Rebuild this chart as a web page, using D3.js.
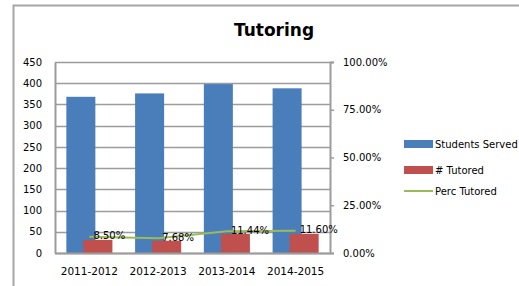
<!DOCTYPE html>
<html>
<head>
<meta charset="utf-8">
<script src="https://cdn.jsdelivr.net/npm/d3@7"></script>
<style>
  body { margin: 0; background: #fff; }
  svg { font-family: "DejaVu Sans", sans-serif; }
</style>
</head>
<body>
<div id="chart"></div>
<script>
// Data
let years = ["2011-2012", "2012-2013", "2013-2014", "2014-2015"];
let served = [368, 376, 398, 388];
let tutored = [31, 29, 45, 45];
let perc = [0.085, 0.0768, 0.1144, 0.116];
let percLabels = ["8.50%", "7.68%", "11.44%", "11.60%"];
let leftTicks = [0, 50, 100, 150, 200, 250, 300, 350, 400, 450];
let rightTicks = [0, 0.25, 0.5, 0.75, 1];
let legendNames = ["Students Served", "# Tutored", "Perc Tutored"];

// Set dimensions
let width = 519,
    height = 286;
let plot = { left: 55, right: 330, top: 62, bottom: 253 };
let font = "'DejaVu Sans', sans-serif";

let svg = d3.select("#chart")
    .append("svg")
        .attr("width", width)
        .attr("height", height);

// Chart frame
svg.append("rect")
    .attr("x", 13.5)
    .attr("y", 5.5)
    .attr("width", 600)
    .attr("height", 400)
    .attr("fill", "none")
    .attr("stroke", "#a6a6a6")
    .attr("stroke-width", 2);

// Title
svg.append("text")
    .attr("x", 274)
    .attr("y", 36)
    .attr("text-anchor", "middle")
    .attr("font-size", 17)
    .attr("font-weight", "bold")
    .text("Tutoring");

// Scales
let x = d3.scaleBand()
    .domain(years)
    .range([plot.left, plot.right])
    .paddingInner(0.33)
    .paddingOuter(0.165);

let y = d3.scaleLinear()
    .domain([0, 450])
    .range([plot.bottom, plot.top]);

let y2 = d3.scaleLinear()
    .domain([0, 1])
    .range([plot.bottom, plot.top]);

// Gridlines
svg.append("g")
    .selectAll("line")
    .data(leftTicks)
    .join("line")
        .attr("x1", plot.left)
        .attr("x2", plot.right)
        .attr("y1", d => Math.round(y(d)) + 0.5)
        .attr("y2", d => Math.round(y(d)) + 0.5)
        .attr("stroke", "#9c9c9c")
        .attr("stroke-width", 1.5);

// Left axis
let leftAxis = svg.append("g")
    .attr("transform", `translate(${plot.left},0)`)
    .call(d3.axisLeft(y).tickValues(leftTicks).tickSize(0).tickPadding(13));
leftAxis.select(".domain").attr("stroke", "#9c9c9c").attr("stroke-width", 2);
leftAxis.selectAll("text").attr("font-size", 10).attr("font-family", font).attr("fill", "#000");

// Right axis
let rightAxis = svg.append("g")
    .attr("transform", `translate(${plot.right},0)`)
    .call(d3.axisRight(y2).tickValues(rightTicks).tickSize(4).tickPadding(9).tickFormat(d3.format(".2%")));
rightAxis.select(".domain").attr("stroke", "#9c9c9c").attr("stroke-width", 2);
rightAxis.selectAll("line").attr("stroke", "#9c9c9c").attr("stroke-width", 1.5);
rightAxis.selectAll("text").attr("font-size", 10).attr("font-family", font).attr("fill", "#000");

// Bars
let group = x.bandwidth();
let barW = group * 0.63;

svg.append("g")
    .selectAll("rect")
    .data(years)
    .join("rect")
        .attr("x", d => x(d))
        .attr("y", (d, i) => y(served[i]))
        .attr("width", barW)
        .attr("height", (d, i) => y(0) - y(served[i]))
        .attr("fill", "#4a7ebb");

svg.append("g")
    .selectAll("rect")
    .data(years)
    .join("rect")
        .attr("x", d => x(d) + group - barW)
        .attr("y", (d, i) => y(tutored[i]))
        .attr("width", barW)
        .attr("height", (d, i) => y(0) - y(tutored[i]))
        .attr("fill", "#c0504d");

// Bottom axis line
svg.append("line")
    .attr("x1", plot.left)
    .attr("x2", plot.right)
    .attr("y1", plot.bottom + 0.5)
    .attr("y2", plot.bottom + 0.5)
    .attr("stroke", "#9c9c9c")
    .attr("stroke-width", 2);

// X labels
svg.append("g")
    .selectAll("text")
    .data(years)
    .join("text")
        .attr("x", d => x(d) + group / 2)
        .attr("y", 275)
        .attr("text-anchor", "middle")
        .attr("font-size", 10.5)
        .text(d => d);

// Perc line
let cx = d => x(d) + group / 2;
let line = d3.line()
    .x((d, i) => cx(years[i]))
    .y(d => y2(d));

svg.append("path")
    .datum(perc)
    .attr("d", line)
    .attr("fill", "none")
    .attr("stroke", "#9bbb59")
    .attr("stroke-width", 2);

svg.append("g")
    .selectAll("text")
    .data(perc)
    .join("text")
        .attr("x", (d, i) => cx(years[i]) + 4)
        .attr("y", d => y2(d) - 1)
        .attr("dy", "0.35em")
        .attr("font-size", 10)
        .text((d, i) => percLabels[i]);

// Legend
let legend = svg.append("g").attr("transform", "translate(404,0)");
legend.append("rect").attr("x", 0).attr("y", 140).attr("width", 29).attr("height", 8).attr("fill", "#4a7ebb");
legend.append("rect").attr("x", 0).attr("y", 166).attr("width", 29).attr("height", 8).attr("fill", "#c0504d");
legend.append("line").attr("x1", 0).attr("x2", 29).attr("y1", 191).attr("y2", 191).attr("stroke", "#9bbb59").attr("stroke-width", 2);
legend.selectAll("text")
    .data(legendNames)
    .join("text")
        .attr("x", 31)
        .attr("y", (d, i) => [144, 170, 191][i])
        .attr("dy", "0.35em")
        .attr("font-size", 10)
        .text(d => d);
</script>
</body>
</html>
